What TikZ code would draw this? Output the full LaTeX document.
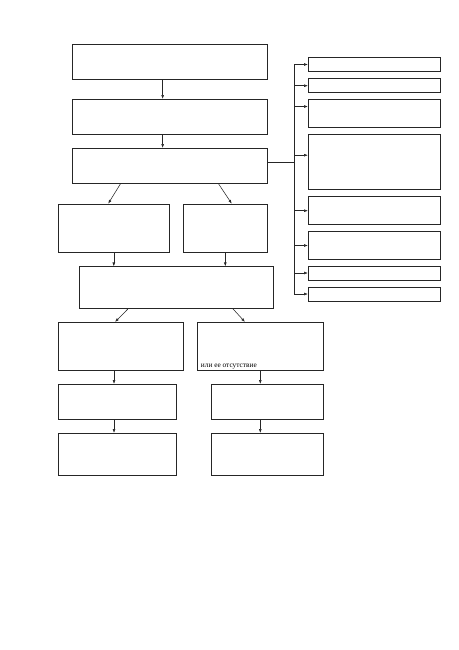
\documentclass[tikz,border=0pt]{standalone}
\usepackage{fontspec}
\setmainfont{Liberation Serif}
\usetikzlibrary{arrows.meta, calc, fit, math}

\tikzset{
  blk/.style={draw=black!85, line width=0.9pt, rectangle, inner sep=0pt},
  arr/.style={-{Latex[length=5pt,width=3.6pt]}, line width=0.7pt, black!85},
  ln/.style={line width=0.7pt, black!85}
}

\begin{document}
\begin{tikzpicture}[x=1.295pt, y=-1.295pt]
\tikzmath{
\rl=308.3;
\rr=440.3;
\tx=294;
}
\useasboundingbox (0,0) rectangle (459,650);

%main column
\node[blk, fit={(72,44) (267,79)}] (b1) {};
\node[blk, fit={(72,99.3) (267,134.3)}] (b2) {};
\node[blk, fit={(72,148.3) (267,183.3)}] (b3) {};
\node[blk, fit={(58.3,204) (169.3,252.7)}] (l1) {};
\node[blk, fit={(183.3,204) (267.3,252.7)}] (r1) {};
\node[blk, fit={(79.3,266.7) (273.3,308.3)}] (b4) {};
\node[blk, fit={(58.3,322.3) (183.3,370.7)}] (l2) {};
\node[blk, fit={(197.3,322.3) (323.3,370.7)}] (r2) {};
\node[blk, fit={(58.3,384.3) (176.7,419.3)}] (l3) {};
\node[blk, fit={(211.3,384.3) (323.3,419.3)}] (r3) {};
\node[blk, fit={(58.3,433.3) (176.7,475)}] (l4) {};
\node[blk, fit={(211.3,433.3) (323.3,475)}] (r4) {};

\node[anchor=south west, inner sep=0pt, font=\fontsize{9.5}{10}\selectfont]
  (lbl) at ([xshift=5pt, yshift=2.5pt]r2.south west) {или ее отсутствие};

%side column
\node[blk, fit={(\rl,57.3) (\rr,71.7)}] (s1) {};
\node[blk, fit={(\rl,78.7) (\rr,92.7)}] (s2) {};
\node[blk, fit={(\rl,99.3) (\rr,127.3)}] (s3) {};
\node[blk, fit={(\rl,134) (\rr,189.3)}] (s4) {};
\node[blk, fit={(\rl,196.7) (\rr,224.7)}] (s5) {};
\node[blk, fit={(\rl,231.7) (\rr,259.3)}] (s6) {};
\node[blk, fit={(\rl,266) (\rr,280)}] (s7) {};
\node[blk, fit={(\rl,287) (\rr,301)}] (s8) {};

%arrows main column
\draw[arr] ($(b1.south west)!0.465!(b1.south east)$) -- ($(b2.north west)!0.465!(b2.north east)$);
\draw[arr] ($(b2.south west)!0.465!(b2.south east)$) -- ($(b3.north west)!0.465!(b3.north east)$);
\draw[arr] ($(b3.south west)!0.25!(b3.south east)$) -- ($(l1.north west)!0.45!(l1.north east)$);
\draw[arr] ($(b3.south west)!0.75!(b3.south east)$) -- ($(r1.north west)!0.576!(r1.north east)$);
\draw[arr] (l1.south) -- (l1.south |- b4.north);
\draw[arr] (r1.south) -- (r1.south |- b4.north);
\draw[arr] ($(b4.south west)!0.253!(b4.south east)$) -- ($(l2.north west)!0.454!(l2.north east)$);
\draw[arr] ($(b4.south west)!0.79!(b4.south east)$) -- ($(r2.north west)!0.379!(r2.north east)$);
\coordinate (lc) at ($(l2.south west)!0.446!(l2.south east)$);
\draw[arr] (lc) -- (lc |- l3.north);
\draw[arr] (lc |- l3.south) -- (lc |- l4.north);
\draw[arr] (r2.south) -- (r2.south |- r3.north);
\draw[arr] (r2.south |- r3.south) -- (r2.south |- r4.north);

%trunk to side column
\coordinate (tr) at (\tx,0);
\coordinate (b3e) at ($(b3.north east)!0.4!(b3.south east)$);
\draw[ln] (b3e) -- (b3e -| tr);
\draw[ln] (tr |- s1.west) -- (tr |- s8.west);
\foreach \n/\f in {s1/0.5, s2/0.5, s3/0.264, s4/0.385, s5/0.5, s6/0.5, s7/0.5, s8/0.5}{
  \coordinate (a\n) at ($(\n.north west)!\f!(\n.south west)$);
  \draw[arr] (tr |- a\n) -- (a\n);
}
\end{tikzpicture}
\end{document}
